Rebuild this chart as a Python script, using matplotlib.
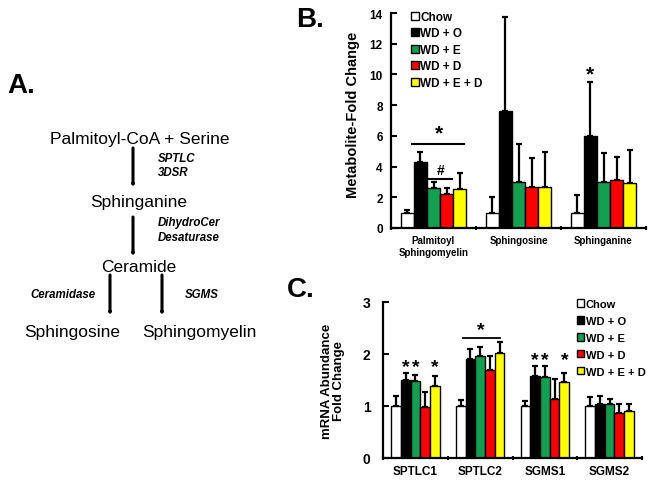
import matplotlib
matplotlib.use("Agg")
import matplotlib.pyplot as plt
import numpy as np
from matplotlib.patches import Patch

plt.rcParams['font.family'] = ['Liberation Sans', 'DejaVu Sans']

W, H = 653, 485

groups = ["Chow", "WD + O", "WD + E", "WD + D", "WD + E + D"]
colors = ["#ffffff", "#000000", "#10a050", "#ff0000", "#ffff00"]

# Panel B: metabolites
b_cats = ["Palmitoyl\nSphingomyelin", "Sphingosine", "Sphinganine"]
b_chow = [1.0, 1.0, 1.0]
b_wdo = [4.3, 7.6, 6.0]
b_wde = [2.6, 3.0, 3.0]
b_wdd = [2.2, 2.7, 3.1]
b_wded = [2.55, 2.7, 2.9]
b_err_chow = [0.2, 1.05, 1.15]
b_err_wdo = [0.68, 6.15, 3.5]
b_err_wde = [0.4, 2.5, 1.9]
b_err_wdd = [0.43, 1.83, 1.5]
b_err_wded = [1.03, 2.27, 2.17]

# Panel C: mRNA
c_cats = ["SPTLC1", "SPTLC2", "SGMS1", "SGMS2"]
c_chow = [1.0, 1.0, 1.0, 1.0]
c_wdo = [1.5, 1.9, 1.58, 1.03]
c_wde = [1.48, 1.97, 1.56, 1.04]
c_wdd = [0.99, 1.69, 1.14, 0.86]
c_wded = [1.38, 2.02, 1.46, 0.91]
c_err_chow = [0.2, 0.12, 0.1, 0.17]
c_err_wdo = [0.13, 0.2, 0.18, 0.16]
c_err_wde = [0.11, 0.16, 0.2, 0.1]
c_err_wdd = [0.27, 0.27, 0.38, 0.17]
c_err_wded = [0.2, 0.21, 0.17, 0.12]

fig = plt.figure(figsize=(W/100, H/100), dpi=100)


def fx(x):
    return x / W


def fy(y):
    return 1 - y / H


def bars(ax, cats, means, errs, width, ecap):
    x = np.arange(len(cats))
    for i, (m, e, c) in enumerate(zip(means, errs, colors)):
        pos = x + (i - 2) * width
        ax.bar(pos, m, width, color=c, edgecolor="black", linewidth=1.0, zorder=2)
        ax.errorbar(pos, m, yerr=[np.zeros(len(m)), e], fmt="none", ecolor="black",
                    elinewidth=1.6, capsize=ecap, capthick=1.6, zorder=1)
    ax.set_xlim(-0.5, len(cats) - 0.5)
    ax.set_xticks(x)
    ax.set_xticks(np.arange(len(cats) + 1) - 0.5, minor=True)
    ax.tick_params(axis="x", which="major", length=0)
    ax.tick_params(axis="x", which="minor", length=3, width=1.5, direction="inout")
    ax.tick_params(axis="y", direction="in", length=4, width=1.5)
    for s in ["top", "right"]:
        ax.spines[s].set_visible(False)
    for s in ["left", "bottom"]:
        ax.spines[s].set_linewidth(1.6)


# ---------- Panel B ----------
axb = fig.add_axes([fx(391), fy(229), fx(646) - fx(391), fy(14) - fy(229)])
wb = 0.155
bars(axb, b_cats,
     [b_chow, b_wdo, b_wde, b_wdd, b_wded],
     [b_err_chow, b_err_wdo, b_err_wde, b_err_wdd, b_err_wded], wb, 2.2)
axb.set_ylim(0, 14)
axb.set_yticks(np.arange(0, 15, 2))
axb.set_xticklabels(b_cats, fontsize=7, fontweight="bold", linespacing=1.25)
axb.tick_params(axis="x", which="major", pad=5)
axb.tick_params(axis="y", labelsize=8.5, pad=6)
for t in axb.get_yticklabels():
    t.set_fontweight("bold")
axb.set_ylabel("Metabolite-Fold Change", fontsize=10.5, fontweight="bold")
axb.yaxis.set_label_coords(-0.12, 0.53)
# significance marks
axb.plot([-0.25, 0.36], [5.5, 5.5], color="black", lw=1.5)
axb.text(0.06, 5.6, "*", ha="center", va="bottom", fontsize=15, fontweight="bold")
axb.plot([-0.05, 0.22], [3.2, 3.2], color="black", lw=1.5)
axb.text(0.08, 3.3, "#", ha="center", va="bottom", fontsize=10, fontweight="bold")
axb.text(2 - wb, 9.4, "*", ha="center", va="bottom", fontsize=15, fontweight="bold")

handles = [Patch(facecolor=c, edgecolor="black", linewidth=1.0) for c in colors]
leg = fig.legend(handles, groups, loc="upper left", bbox_to_anchor=(fx(411), fy(12)),
                 frameon=False, prop={"weight": "bold", "size": 8.5},
                 handlelength=0.65, handleheight=0.65, handletextpad=0.15,
                 labelspacing=0.38, borderpad=0, borderaxespad=0)

# ---------- Panel C ----------
axc = fig.add_axes([fx(383), fy(459), fx(642) - fx(383), fy(303) - fy(459)])
wc = 0.15
bars(axc, c_cats,
     [c_chow, c_wdo, c_wde, c_wdd, c_wded],
     [c_err_chow, c_err_wdo, c_err_wde, c_err_wdd, c_err_wded], wc, 2.0)
axc.set_ylim(0, 3)
axc.set_yticks([0, 1, 2, 3])
axc.set_xticklabels(c_cats, fontsize=8.5, fontweight="bold")
axc.tick_params(axis="x", which="major", pad=5)
axc.tick_params(axis="y", labelsize=10, pad=9)
for t in axc.get_yticklabels():
    t.set_fontweight("bold")
axc.set_ylabel("mRNA Abundance\nFold Change", fontsize=9.5, fontweight="bold", linespacing=1.1)
axc.yaxis.set_label_coords(-0.145, 0.5)
star_kw = dict(ha="center", va="bottom", fontsize=14, fontweight="bold")
axc.text(0 - wc, 1.6, "*", **star_kw)
axc.text(0, 1.6, "*", **star_kw)
axc.text(0 + 2 * wc, 1.6, "*", **star_kw)
axc.plot([1 - 0.265, 1 + 0.307], [2.3, 2.3], color="black", lw=1.3)
axc.text(1.01, 2.3, "*", **star_kw)
axc.text(2 - wc, 1.73, "*", **star_kw)
axc.text(2, 1.73, "*", **star_kw)
axc.text(2 + 2 * wc, 1.73, "*", **star_kw)

fig.legend(handles, groups, loc="upper left", bbox_to_anchor=(fx(577), fy(300)),
           frameon=False, prop={"weight": "bold", "size": 8},
           handlelength=0.65, handleheight=0.65, handletextpad=0.15,
           labelspacing=0.62, borderpad=0, borderaxespad=0)

# ---------- Panel labels ----------
fig.text(fx(7), fy(86), "A.", fontsize=20, fontweight="bold", va="center", ha="left")
fig.text(fx(296), fy(20), "B.", fontsize=20, fontweight="bold", va="center", ha="left")
fig.text(fx(287), fy(290), "C.", fontsize=20, fontweight="bold", va="center", ha="left")

# ---------- Panel A: pathway ----------
node_kw = dict(fontsize=12.5, ha="center", va="center")
fig.text(fx(140), fy(140), "Palmitoyl-CoA + Serine", **node_kw)
fig.text(fx(139), fy(203), "Sphinganine", **node_kw)
fig.text(fx(139), fy(267), "Ceramide", **node_kw)
fig.text(fx(72), fy(332), "Sphingosine", **node_kw)
fig.text(fx(199), fy(332), "Sphingomyelin", **node_kw)

enz_kw = dict(fontsize=8.3, fontweight="bold", style="italic", ha="left", va="center")
fig.text(fx(158), fy(159), "SPTLC", **enz_kw)
fig.text(fx(158), fy(173), "3DSR", **enz_kw)
fig.text(fx(158), fy(223), "DihydroCer", **enz_kw)
fig.text(fx(158), fy(238), "Desaturase", **enz_kw)
fig.text(fx(30), fy(295), "Ceramidase", **enz_kw)
fig.text(fx(185), fy(295), "SGMS", **enz_kw)

arrow_kw = dict(arrowstyle="->,head_length=0.55,head_width=0.32", lw=2.2, color="black",
                shrinkA=0, shrinkB=0)
for (x, y0, y1) in [(133, 149, 188), (133, 218, 257), (110, 276, 316), (162, 276, 316)]:
    fig.add_artist(matplotlib.patches.FancyArrowPatch((fx(x), fy(y0)), (fx(x), fy(y1)),
                                                      transform=fig.transFigure, **arrow_kw))

fig.savefig("out.png", dpi=100)
